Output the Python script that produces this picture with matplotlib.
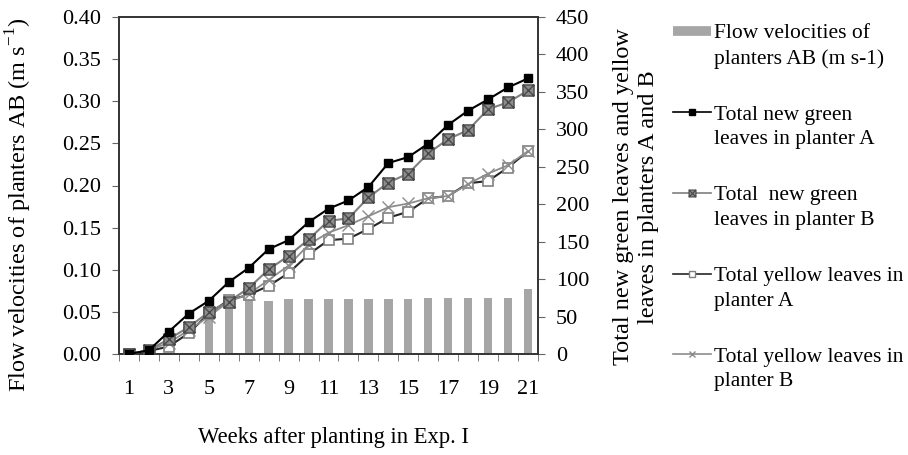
import numpy as np
import matplotlib
matplotlib.use("Agg")
import matplotlib.pyplot as plt
from matplotlib.legend_handler import HandlerLine2D
from matplotlib.lines import Line2D
from matplotlib.path import Path
from matplotlib.transforms import Affine2D

plt.rcParams['font.family'] = ['Liberation Serif', 'DejaVu Serif']

weeks = list(range(1, 22))
flow_velocity = [0, 0, 0, 0, 0.062, 0.065, 0.067, 0.063, 0.065, 0.065, 0.065,
                 0.065, 0.065, 0.065, 0.065, 0.066, 0.066, 0.066, 0.066, 0.066, 0.077]
green_A = [0, 5, 30, 54, 71, 96, 115, 140, 152, 176, 194, 205, 223, 255, 263,
           281, 306, 325, 340, 356, 368]
green_B = [0, 5, 20, 36, 56, 70, 88, 113, 131, 153, 178, 181, 209, 229, 241,
           268, 287, 299, 327, 336, 352]
yellow_A = [0, 4, 10, 28, 54, 72, 79, 91, 108, 133, 152, 154, 167, 182, 190,
            208, 211, 228, 231, 249, 271]
yellow_B = [0, 5, 15, 32, 50, 70, 80, 99, 118, 146, 162, 172, 184, 196, 201,
            208, 211, 227, 241, 252, 271]

W, H = 908, 455
TICK_FS = 16
LABEL_FS = 17.5
LEG_FS = 15.5

fig = plt.figure(figsize=(W / 100, H / 100), dpi=100)
ax = fig.add_axes([119 / W, 1 - 354 / H, (538 - 119) / W, (354 - 17) / H])
ax2 = ax.twinx()

x = np.arange(len(weeks))
ax.bar(x, flow_velocity, width=0.42, color='#a6a6a6', zorder=2)
ax.set_ylim(0, 0.40)
yt = np.arange(0, 0.401, 0.05)
ax.set_yticks(yt)
ax.set_yticklabels([f"{v:.2f}" for v in yt])
ax.set_xlim(-0.5, len(weeks) - 0.5)
ax.set_xticks(x[::2])
ax.set_xticklabels([str(w) for w in weeks[::2]])
ax.set_xticks(np.arange(-0.5, len(weeks), 1), minor=True)
ax.tick_params(axis='x', which='major', length=0, pad=19, labelsize=TICK_FS)
ax.tick_params(axis='x', which='minor', length=5, direction='out', color='#666666')
ax.tick_params(axis='y', length=5, direction='out', labelsize=TICK_FS, pad=8, color='#666666')

ax2.set_ylim(0, 450)
ax2.set_yticks(np.arange(0, 451, 50))
ax2.tick_params(axis='y', length=5, direction='out', labelsize=TICK_FS, pad=8, color='#666666')

# square with an X inside
boxx = Path([(-1, -1), (1, -1), (1, 1), (-1, 1), (-1, -1),
             (-1, -1), (1, 1), (-1, 1), (1, -1)],
            [Path.MOVETO, Path.LINETO, Path.LINETO, Path.LINETO, Path.CLOSEPOLY,
             Path.MOVETO, Path.LINETO, Path.MOVETO, Path.LINETO])

ax2.plot(x, green_A, color='black', lw=1.5, marker='s', ms=6,
         mfc='black', mec='black', zorder=5)
ax2.plot(x, green_B, color='#7f7f7f', lw=1.5, marker=boxx, ms=8,
         mfc='#8c8c8c', mec='#4a4a4a', mew=1.0, zorder=4)
ax2.plot(x, yellow_A, color='#262626', lw=1.5, marker='s', ms=7,
         mfc='white', mec='#808080', mew=1.2, zorder=3)
ax2.plot(x, yellow_B, color='#8c8c8c', lw=1.3, marker='x', ms=8,
         mec='#8c8c8c', mew=1.0, zorder=3.5)

for a in (ax, ax2):
    for s in a.spines.values():
        s.set_color('#333333')
        s.set_linewidth(1.2)

fig.text(334 / W, 1 - 438 / H, 'Weeks after planting in Exp. I',
         fontsize=16.3, ha='center', va='center')
fig.text(19 / W, 1 - 205 / H, 'Flow velocities of planters AB (m s$^{\\mathregular{-1}}$)',
         fontsize=LABEL_FS, rotation=90, ha='center', va='center')
fig.text(636 / W, 1 - 197 / H, 'Total new green leaves and yellow\nleaves in planters A and B',
         fontsize=LABEL_FS, rotation=90, ha='center', va='center',
         linespacing=1.2, multialignment='center')


class UpHandler(HandlerLine2D):
    def __init__(self, dy, **kw):
        super().__init__(**kw)
        self.dy = dy

    def create_artists(self, legend, orig_handle, xdescent, ydescent, width,
                       height, fontsize, trans):
        t = Affine2D().translate(0, self.dy) + trans
        return super().create_artists(legend, orig_handle, xdescent, ydescent,
                                      width, height, fontsize, t)


h_bar = Line2D([], [], color='#a6a6a6', lw=7, solid_capstyle='butt')
h1 = Line2D([], [], color='black', lw=1.2, marker='s', ms=4, mfc='black', mec='black')
h2 = Line2D([], [], color='#7f7f7f', lw=1.2, marker=boxx, ms=5, mfc='#8c8c8c', mec='#4a4a4a', mew=0.8)
h3 = Line2D([], [], color='#262626', lw=1.2, marker='s', ms=4.5, mfc='white', mec='#808080')
h4 = Line2D([], [], color='#8c8c8c', lw=1.2, marker='x', ms=5, mec='#8c8c8c')

labels = ['Flow velocities of\nplanters AB (m s-1)',
          'Total new green\nleaves in planter A',
          'Total  new green\nleaves in planter B',
          'Total yellow leaves in\nplanter A',
          'Total yellow leaves in\nplanter B']
leg = fig.legend([h_bar, h1, h2, h3, h4], labels,
                 handler_map={Line2D: UpHandler(dy=10.5)},
                 loc='upper left', bbox_to_anchor=(673 / W, 1 - 24 / H),
                 frameon=False, fontsize=LEG_FS, labelspacing=1.72,
                 handlelength=1.75, handletextpad=0.15, borderaxespad=0,
                 borderpad=0)
for t in leg.get_texts():
    t.set_linespacing(1.4)

fig.savefig('out.png', dpi=100)
